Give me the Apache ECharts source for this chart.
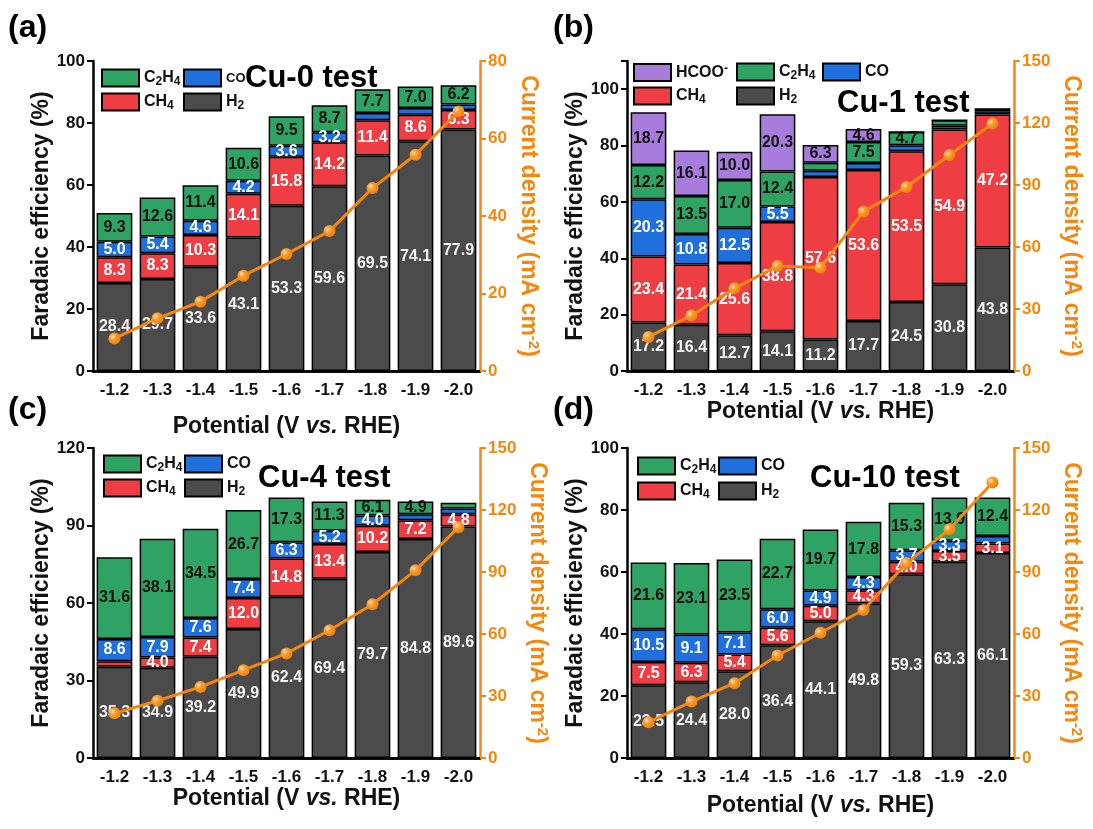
<!DOCTYPE html>
<html><head><meta charset="utf-8">
<script src="https://cdn.jsdelivr.net/npm/echarts@6/dist/echarts.min.js"></script>
<style>html,body{margin:0;padding:0;background:#fff}#c{width:1093px;height:829px}</style>
</head><body><div id="c"></div>
<script>
// ---------- data ----------
const potentials = ['-1.2','-1.3','-1.4','-1.5','-1.6','-1.7','-1.8','-1.9','-2.0'];

// (a) Cu-0
const cu0_H2   = [28.4,29.7,33.6,43.1,53.3,59.6,69.5,74.1,77.9];
const cu0_CH4  = [8.3,8.3,10.3,14.1,15.8,14.2,11.4,8.6,6.3];
const cu0_CO   = [5.0,5.4,4.6,4.2,3.6,3.2,2.3,2.1,1.8];
const cu0_C2H4 = [9.3,12.6,11.4,10.6,9.5,8.7,7.7,7.0,6.2];
const cu0_J    = [8.4,13.6,17.9,24.6,30.2,36.1,47.2,55.8,67.0];

// (b) Cu-1
const cu1_H2   = [17.2,16.4,12.7,14.1,11.2,17.7,24.5,30.8,43.8];
const cu1_CH4  = [23.4,21.4,25.6,38.8,57.6,53.6,53.5,54.9,47.2];
const cu1_CO   = [20.3,10.8,12.5,5.5,2.3,2.5,2.1,1.3,1.2];
const cu1_C2H4 = [12.2,13.5,17.0,12.4,2.8,7.5,4.7,2.0,0.8];
const cu1_HCOO = [18.7,16.1,10.0,20.3,6.3,4.6,0,0,0];
const cu1_J    = [16.5,26.9,40.0,50.8,50.0,77.1,89.0,104.5,119.7];

// (c) Cu-4
const cu4_H2   = [35.3,34.9,39.2,49.9,62.4,69.4,79.7,84.8,89.6];
const cu4_CH4  = [2.2,4.0,7.4,12.0,14.8,13.4,10.2,7.2,4.8];
const cu4_CO   = [8.6,7.9,7.6,7.4,6.3,5.2,4.0,2.4,2.2];
const cu4_C2H4 = [31.6,38.1,34.5,26.7,17.3,11.3,6.1,4.9,2.2];
const cu4_J    = [21.6,27.7,34.4,42.5,50.6,61.8,74.4,90.8,111.7];

// (d) Cu-10
const cu10_H2   = [23.5,24.4,28.0,36.4,44.1,49.8,59.3,63.3,66.1];
const cu10_CH4  = [7.5,6.3,5.4,5.6,5.0,4.3,4.0,3.5,3.1];
const cu10_CO   = [10.5,9.1,7.1,6.0,4.9,4.3,3.7,3.3,2.4];
const cu10_C2H4 = [21.6,23.1,23.5,22.7,19.7,17.8,15.3,13.9,12.4];
const cu10_J    = [17.3,27.3,36.2,49.6,60.6,71.6,94.3,110.7,133.3];

// ---------- style ----------
const FONT = '"Liberation Sans", Arial, sans-serif';
const ORANGE = '#f5870e';
const COLORS = {H2:'#4b4b4b', CH4:'#ee3e43', CO:'#1f6fdc', C2H4:'#2fa364', HCOO:'#a87cdc'};
const LABELCOLOR = {H2:'#f4f4f4', CH4:'#fff', CO:'#fff', C2H4:'#111', HCOO:'#111'};
const NAMEFS = 23;

const panels = [
  {tag:'(a)', title:'Cu-0 test', H2:cu0_H2, CH4:cu0_CH4, CO:cu0_CO, C2H4:cu0_C2H4, J:cu0_J,
   grid:{left:93, top:61, width:387, height:310}, yMax:100, yInt:20, jMax:80, jInt:20,
   xGap:44, yGap:40, jGap:35, tagPos:[8,28], titlePos:[245,78],
   legend:[['C2H4',101,70,16],['CO',183,70,13],['CH4',101,94,16],['H2',183,94,16]]},
  {tag:'(b)', title:'Cu-1 test', H2:cu1_H2, CH4:cu1_CH4, CO:cu1_CO, C2H4:cu1_C2H4, HCOO:cu1_HCOO, J:cu1_J,
   grid:{left:627, top:61, width:387, height:310}, yMax:110, yInt:20, jMax:150, jInt:30,
   xGap:25, yGap:40, jGap:44, tagPos:[553,28], titlePos:[837,103],
   legend:[['HCOO',633,64,16],['C2H4',736,64,16],['CO',822,64,16],['CH4',633,88,16],['H2',736,88,16]]},
  {tag:'(c)', title:'Cu-4 test', H2:cu4_H2, CH4:cu4_CH4, CO:cu4_CO, C2H4:cu4_C2H4, J:cu4_J,
   grid:{left:93, top:448, width:387, height:310}, yMax:120, yInt:30, jMax:150, jInt:30,
   xGap:23, yGap:40, jGap:44, tagPos:[8,410], titlePos:[258,478],
   legend:[['C2H4',103,456,16],['CO',184,456,16],['CH4',103,480,16],['H2',184,480,16]]},
  {tag:'(d)', title:'Cu-10 test', H2:cu10_H2, CH4:cu10_CH4, CO:cu10_CO, C2H4:cu10_C2H4, J:cu10_J,
   grid:{left:627, top:448, width:387, height:310}, yMax:100, yInt:20, jMax:150, jInt:30,
   xGap:36, yGap:40, jGap:44, tagPos:[553,410], titlePos:[810,478],
   legend:[['C2H4',637,458,16],['CO',718,458,16],['CH4',637,483,16],['H2',718,483,16]]}
];

const legendText = {
  C2H4:'{n|C}{s|2}{n|H}{s|4}', CH4:'{n|CH}{s|4}', H2:'{n|H}{s|2}', CO:'{n|CO}', HCOO:'{n|HCOO}{p|-}'
};
function legendRich(fs){
  return {
    n:{fontFamily:FONT, fontWeight:'bold', fontSize:fs, lineHeight:20, color:'#111', verticalAlign:'middle'},
    s:{fontFamily:FONT, fontWeight:'bold', fontSize:Math.round(fs*0.75), lineHeight:12, color:'#111', verticalAlign:'bottom'},
    p:{fontFamily:FONT, fontWeight:'bold', fontSize:Math.round(fs*0.75), lineHeight:12, color:'#111', verticalAlign:'top'}
  };
}

const grid=[], xAxis=[], yAxis=[], series=[], legend=[], graphic=[];
const axisLabelStyle = {fontFamily:FONT, fontWeight:'bold', fontSize:17, color:'#111'};

panels.forEach((p, i) => {
  grid.push(Object.assign({containLabel:false}, p.grid));
  xAxis.push({
    type:'category', gridIndex:i, data:potentials,
    axisLine:{lineStyle:{color:'#000', width:2.5}},
    axisTick:{alignWithLabel:true, length:6, lineStyle:{width:2, color:'#000'}},
    axisLabel:Object.assign({margin:11}, axisLabelStyle),
    name:'{b|Potential (V }{i|vs.}{b| RHE)}', nameLocation:'middle', nameGap:p.xGap,
    nameTextStyle:{rich:{
      b:{fontFamily:FONT, fontWeight:'bold', fontSize:NAMEFS, color:'#111'},
      i:{fontFamily:FONT, fontWeight:'bold', fontStyle:'italic', fontSize:NAMEFS, color:'#111'}}}
  });
  xAxis.push({
    type:'category', gridIndex:i, data:potentials, position:'top',
    axisLine:{lineStyle:{color:'#000', width:2.5}}, axisTick:{show:false}, axisLabel:{show:false}
  });
  yAxis.push({
    type:'value', gridIndex:i, position:'left', min:0, max:p.yMax, interval:p.yInt,
    axisLine:{show:true, lineStyle:{color:'#000', width:2.5}},
    axisTick:{show:true, length:6, lineStyle:{width:2, color:'#000'}},
    axisLabel:Object.assign({margin:8, formatter:v => v > 100 && p.yMax % p.yInt ? '' : v}, axisLabelStyle),
    splitLine:{show:false},
    name:'Faradaic efficiency (%)', nameLocation:'middle', nameGap:p.yGap, nameRotate:90,
    nameTextStyle:{fontFamily:FONT, fontWeight:'bold', fontSize:NAMEFS, color:'#111'}
  });
  yAxis.push({
    type:'value', gridIndex:i, position:'right', min:0, max:p.jMax, interval:p.jInt,
    axisLine:{show:true, lineStyle:{color:ORANGE, width:2.5}},
    axisTick:{show:true, length:6, lineStyle:{width:2, color:ORANGE}},
    axisLabel:{margin:8, fontFamily:FONT, fontWeight:'bold', fontSize:17, color:ORANGE},
    splitLine:{show:false},
    name:'{b|Current density (mA cm}{u|-2}{b|)}', nameLocation:'middle', nameGap:p.jGap, nameRotate:-90,
    nameTextStyle:{rich:{
      b:{fontFamily:FONT, fontWeight:'bold', fontSize:NAMEFS, lineHeight:26, color:ORANGE, verticalAlign:'middle'},
      u:{fontFamily:FONT, fontWeight:'bold', fontSize:15, lineHeight:15, color:ORANGE, verticalAlign:'top'}}}
  });

  const order = ['H2','CH4','CO','C2H4','HCOO'].filter(k => p[k]);
  order.forEach(k => {
    series.push({
      type:'bar', name:k, xAxisIndex:2*i, yAxisIndex:2*i, stack:'s'+i,
      barCategoryGap:'17%',
      itemStyle:{color:COLORS[k], borderColor:'#000', borderWidth:1.5},
      data:p[k].map(v => ({value:v, label:{show:v >= 3}})),
      label:{position:'inside', color:LABELCOLOR[k], fontFamily:FONT, fontWeight:'bold', fontSize:16,
             formatter:d => Number(d.value).toFixed(1)},
      z:2
    });
  });
  series.push({
    type:'line', name:'J'+i, xAxisIndex:2*i, yAxisIndex:2*i+1, data:p.J,
    lineStyle:{color:ORANGE, width:3}, symbol:'circle', symbolSize:12,
    itemStyle:{color:{type:'radial', x:0.35, y:0.35, r:0.7,
      colorStops:[{offset:0, color:'#ffe2b8'},{offset:0.35, color:'#f9a035'},{offset:1, color:'#ee7d05'}]}},
    z:10
  });

  p.legend.forEach(([name, x, y, fs]) => {
    legend.push({
      data:[name], left:x, top:y-1.5, padding:0, itemGap:0, itemWidth:37, itemHeight:17,
      selectedMode:false, icon:'rect',
      formatter:n => legendText[n],
      textStyle:{fontFamily:FONT, fontWeight:'bold', fontSize:fs, color:'#111', rich:legendRich(fs)}
    });
  });

  graphic.push({type:'text', x:p.tagPos[0], y:p.tagPos[1],
    style:{text:p.tag, font:'bold 32px ' + FONT, fill:'#000', textVerticalAlign:'middle'}});
  graphic.push({type:'text', x:p.titlePos[0], y:p.titlePos[1],
    style:{text:p.title, font:'bold 31px ' + FONT, fill:'#000', textVerticalAlign:'middle'}});
});

const chart = echarts.init(document.getElementById('c'), null, {renderer:'canvas'});
chart.setOption({animation:false, backgroundColor:'#fff', grid, xAxis, yAxis, series, legend, graphic});
</script></body></html>
